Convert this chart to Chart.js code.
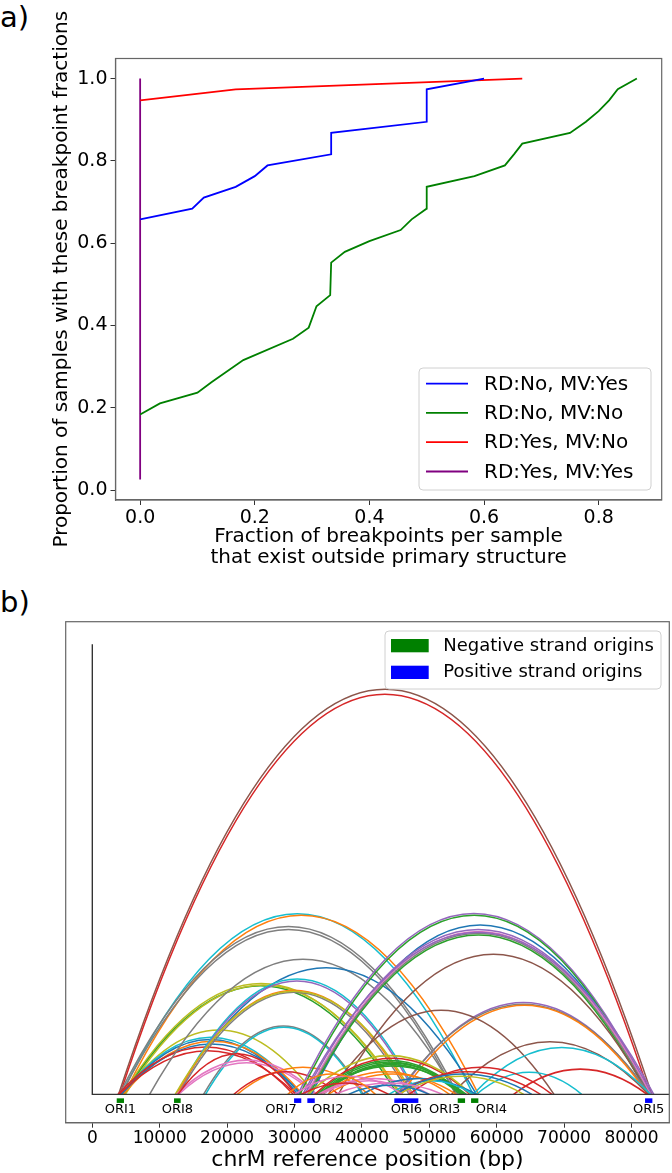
<!DOCTYPE html>
<html>
<head>
<meta charset="utf-8">
<script src="https://cdn.jsdelivr.net/npm/chart.js@4.4.0/dist/chart.umd.min.js"></script>
<style>
  html, body { margin: 0; padding: 0; background: #fff; }
  body { width: 672px; height: 1173px; position: relative; overflow: hidden; font-family: 'DejaVu Sans', sans-serif; }
  .lbl { position: absolute; left: 0; font-size: 29px; line-height: 29px; color: #000; }
  #ca { position: absolute; left: 0; top: 0; }
  #cb { position: absolute; left: 0; top: 575px; }
</style>
</head>
<body>
<div class="lbl" style="top:3px">a)</div>
<div class="lbl" style="top:588px">b)</div>
<canvas id="ca" width="672" height="580"></canvas>
<canvas id="cb" width="672" height="598"></canvas>
<script>
// ---------- panel a data ----------
const seriesLabels = ['RD:No, MV:Yes', 'RD:No, MV:No', 'RD:Yes, MV:No', 'RD:Yes, MV:Yes'];
const blueX = [0, 0.0909, 0.1111, 0.1667, 0.2, 0.2222, 0.3333, 0.3333, 0.5, 0.5, 0.6];
const blueY = [0.658, 0.684, 0.711, 0.737, 0.763, 0.789, 0.816, 0.868, 0.895, 0.974, 1.0];
const greenX = [0, 0.0345, 0.1, 0.125, 0.18, 0.2667, 0.2941, 0.3077, 0.3316, 0.3333, 0.3571, 0.4, 0.4545,
                0.4737, 0.4997, 0.5, 0.5833, 0.6364, 0.6522, 0.6667, 0.75, 0.7778, 0.8, 0.8182, 0.8333, 0.8667];
const greenY = [0.184, 0.211, 0.237, 0.263, 0.316, 0.368, 0.395, 0.447, 0.474, 0.553, 0.579, 0.605, 0.632,
                0.658, 0.684, 0.737, 0.763, 0.789, 0.816, 0.842, 0.868, 0.895, 0.921, 0.947, 0.974, 1.0];
const redX = [0, 0.1667, 0.6667];
const redY = [0.947, 0.974, 1.0];
const purpleX = [0, 0];
const purpleY = [0.026, 1.0];
const aXTicks = [0, 0.2, 0.4, 0.6, 0.8];
const aYTicks = [0, 0.2, 0.4, 0.6, 0.8, 1.0];

// ---------- panel b data ----------
const bXTicks = [0, 10000, 20000, 30000, 40000, 50000, 60000, 70000, 80000];
const oriNames = ['ORI1', 'ORI8', 'ORI7', 'ORI2', 'ORI6', 'ORI3', 'ORI4', 'ORI5'];
const oriStart = [3620, 12120, 29930, 31900, 44800, 54210, 56190, 82000];
const oriEnd   = [4700, 13110, 31000, 33000, 48370, 55300, 57270, 83090];
const oriStrand = ['-', '-', '+', '+', '+', '-', '-', '+'];
const strandLabels = ['Negative strand origins', 'Positive strand origins'];

// breakpoint pairs: start, end and arc height
const arcStart = [3900, 4100, 4300, 4700, 4000, 4300, 4500, 4700, 4900, 4500, 4300, 4400, 4600, 4300, 3800, 4000,
  8500, 12400, 12600, 12700, 12500, 12800, 12300, 16500, 16800, 12500, 12800, 12700, 21500, 21000,
  30500, 30800, 32500, 31500, 31800, 32000, 32200, 31200, 36500, 45400, 45200, 45800, 35000, 53300, 56500, 57000, 62500,
  33300, 33600, 33900, 34200, 33500, 33000, 32000, 34000, 35000, 33500, 34000, 40000, 44000, 45000, 47000, 45000, 45500,
  30000, 31000, 36000, 38000, 29000];
const arcEnd = [83000, 82700, 56500, 57300, 54200, 53900, 45600, 45300, 45800, 33000, 30800, 30500, 31200, 31000, 29800, 30200,
  54000, 57000, 48200, 48000, 47300, 47000, 47600, 40200, 40000, 33300, 33000, 30200, 41000, 36500,
  82700, 82500, 82600, 83000, 82800, 82600, 82400, 83300, 82500, 82500, 82700, 82400, 68500, 82500, 82800, 72600, 82300,
  55000, 54800, 55200, 54600, 55500, 56000, 56200, 53000, 54000, 50000, 48000, 57000, 56500, 66500, 68200, 65200, 64000,
  46000, 44000, 52000, 50000, 42000];
const arcHeight = [0.900, 0.889, 0.401, 0.398, 0.373, 0.366, 0.246, 0.241, 0.243, 0.143, 0.127, 0.122, 0.118, 0.112, 0.105, 0.097,
  0.300, 0.281, 0.256, 0.252, 0.231, 0.227, 0.229, 0.152, 0.149, 0.076, 0.070, 0.090, 0.060, 0.050,
  0.402, 0.398, 0.376, 0.366, 0.362, 0.358, 0.354, 0.360, 0.311, 0.204, 0.200, 0.198, 0.187, 0.117, 0.104, 0.049, 0.056,
  0.075, 0.072, 0.069, 0.066, 0.063, 0.080, 0.086, 0.050, 0.045, 0.035, 0.030, 0.035, 0.030, 0.050, 0.060, 0.045, 0.040,
  0.040, 0.025, 0.025, 0.020, 0.045];
const arcColor = ['brown', 'red', 'cyan', 'orange', 'gray', 'gray', 'olive', 'green', 'olive', 'olive', 'cyan', 'blue', 'orange', 'blue', 'red', 'red',
  'gray', 'blue', 'cyan', 'purple', 'orange', 'gray', 'olive', 'gray', 'cyan', 'pink', 'pink', 'red', 'orange', 'red',
  'purple', 'green', 'blue', 'purple', 'pink', 'gray', 'green', 'purple', 'brown', 'purple', 'gray', 'orange', 'brown', 'brown', 'cyan', 'cyan', 'red',
  'green', 'green', 'green', 'green', 'green', 'red', 'olive', 'orange', 'orange', 'pink', 'pink', 'blue', 'cyan', 'red', 'red', 'blue', 'olive',
  'pink', 'red', 'pink', 'blue', 'orange'];

const tab10 = { blue: '#1f77b4', orange: '#ff7f0e', green: '#2ca02c', red: '#d62728', purple: '#9467bd',
                brown: '#8c564b', pink: '#e377c2', gray: '#7f7f7f', olive: '#bcbd22', cyan: '#17becf' };

Chart.defaults.font.family = "'DejaVu Sans', sans-serif";
Chart.defaults.color = '#000';

function pts(xs, ys) { return xs.map((x, i) => ({ x: x, y: ys[i] })); }

// full box round the plot like matplotlib spines
const frame = {
  id: 'frame',
  afterDatasetsDraw(c) {
    const a = c.chartArea, ctx = c.ctx;
    ctx.save();
    ctx.strokeStyle = '#666';
    ctx.lineWidth = 1.2;
    ctx.strokeRect(a.left, a.top, a.right - a.left, a.bottom - a.top);
    ctx.restore();
  }
};

function roundBox(ctx, x, y, w, h, r) {
  ctx.beginPath();
  ctx.moveTo(x + r, y);
  ctx.arcTo(x + w, y, x + w, y + h, r);
  ctx.arcTo(x + w, y + h, x, y + h, r);
  ctx.arcTo(x, y + h, x, y, r);
  ctx.arcTo(x, y, x + w, y, r);
  ctx.closePath();
  ctx.fillStyle = 'rgba(255,255,255,0.8)';
  ctx.fill();
  ctx.strokeStyle = '#d0d0d0';
  ctx.lineWidth = 1;
  ctx.stroke();
}

const legendA = {
  id: 'legendA',
  afterDraw(c) {
    const ctx = c.ctx, a = c.chartArea;
    const w = 232, h = 122;
    const x = a.right - 10.7 - w, y = a.bottom - 10 - h;
    ctx.save();
    roundBox(ctx, x, y, w, h, 4);
    ctx.font = "20px 'DejaVu Sans'";
    ctx.textBaseline = 'middle';
    ctx.fillStyle = '#000';
    c.data.datasets.forEach((d, i) => {
      const cy = y + 15.6 + i * 29.3;
      ctx.strokeStyle = d.borderColor;
      ctx.lineWidth = 1.8;
      ctx.beginPath();
      ctx.moveTo(x + 7, cy);
      ctx.lineTo(x + 49, cy);
      ctx.stroke();
      ctx.fillText(d.label, x + 65, cy + 1);
    });
    ctx.restore();
  }
};

new Chart(document.getElementById('ca'), {
  type: 'line',
  data: {
    datasets: [
      { label: seriesLabels[0], data: pts(blueX, blueY), borderColor: '#0000ff' },
      { label: seriesLabels[1], data: pts(greenX, greenY), borderColor: '#008000' },
      { label: seriesLabels[2], data: pts(redX, redY), borderColor: '#ff0000' },
      { label: seriesLabels[3], data: pts(purpleX, purpleY), borderColor: '#800080' }
    ]
  },
  options: {
    responsive: false,
    animation: false,
    layout: { padding: { top: 58.5, right: 10.3, left: 0, bottom: 0 } },
    elements: { point: { radius: 0 }, line: { borderWidth: 1.8, tension: 0 } },
    plugins: { legend: { display: false }, tooltip: { enabled: false } },
    scales: {
      x: {
        type: 'linear', min: -0.043, max: 0.910,
        afterBuildTicks: s => { s.ticks = aXTicks.map(v => ({ value: v })); },
        afterFit: s => { s.height = 80; },
        ticks: { font: { size: 19 }, color: '#000', padding: 2, maxRotation: 0, callback: v => v.toFixed(1) },
        grid: { drawOnChartArea: false, tickLength: 5, color: '#333' },
        border: { color: '#666', width: 1.2 },
        title: {
          display: true,
          text: ['Fraction of breakpoints per sample', 'that exist outside primary structure'],
          font: { size: 20, lineHeight: 1.08 }, color: '#000', padding: { top: 0, bottom: 11 }
        }
      },
      y: {
        type: 'linear', min: -0.0238, max: 1.0488,
        afterBuildTicks: s => { s.ticks = aYTicks.map(v => ({ value: v })); },
        afterFit: s => { s.width = 115.5; },
        ticks: { font: { size: 19 }, color: '#000', padding: 3, callback: v => v.toFixed(1) },
        grid: { drawOnChartArea: false, tickLength: 5, color: '#333' },
        border: { color: '#666', width: 1.2 },
        title: {
          display: true, text: 'Proportion of samples with these breakpoint fractions',
          font: { size: 20, lineHeight: 1.2 }, color: '#000', padding: { top: 49.7, bottom: 0 }
        }
      }
    }
  },
  plugins: [frame, legendA]
});

// ---------- panel b ----------
// each arc is a parabola: quadratic curve whose control point sits at twice the peak height
const arcs = {
  id: 'arcs',
  beforeDatasetsDraw(c) {
    const ctx = c.ctx, xs = c.scales.x, ys = c.scales.y, a = c.chartArea;
    const y0 = ys.getPixelForValue(0);
    ctx.save();
    ctx.beginPath();
    ctx.rect(a.left, a.top, a.right - a.left, a.bottom - a.top);
    ctx.clip();
    ctx.lineWidth = 1.5;
    for (let i = 0; i < arcStart.length; i++) {
      const x1 = xs.getPixelForValue(arcStart[i]);
      const x2 = xs.getPixelForValue(arcEnd[i]);
      const yt = ys.getPixelForValue(arcHeight[i]);
      ctx.strokeStyle = tab10[arcColor[i]];
      ctx.beginPath();
      ctx.moveTo(x1, y0);
      ctx.quadraticCurveTo((x1 + x2) / 2, y0 - 2 * (y0 - yt), x2, y0);
      ctx.stroke();
    }
    ctx.restore();
  },
  afterDatasetsDraw(c) {
    const ctx = c.ctx, xs = c.scales.x, ys = c.scales.y;
    const y0 = ys.getPixelForValue(0);
    const align = ['center', 'center', 'right', 'left', 'center', 'right', 'left', 'center'];
    ctx.save();
    ctx.font = "13px 'DejaVu Sans'";
    ctx.textBaseline = 'middle';
    for (let i = 0; i < oriNames.length; i++) {
      const x1 = xs.getPixelForValue(oriStart[i]);
      const x2 = xs.getPixelForValue(oriEnd[i]);
      ctx.fillStyle = oriStrand[i] === '-' ? '#008000' : '#0000ff';
      ctx.fillRect(x1, y0 + 4, x2 - x1, 4.6);
      ctx.fillStyle = '#000';
      ctx.textAlign = align[i];
      let tx = (x1 + x2) / 2;
      if (align[i] === 'right') tx -= 1;
      if (align[i] === 'left') tx += 1;
      ctx.fillText(oriNames[i], tx, y0 + 15);
    }
    ctx.restore();
  }
};

const legendB = {
  id: 'legendB',
  afterDraw(c) {
    const ctx = c.ctx, a = c.chartArea;
    const w = 276, h = 58;
    const x = a.right - 8.3 - w, y = a.top + 9.3;
    ctx.save();
    roundBox(ctx, x, y, w, h, 4);
    ctx.font = "18px 'DejaVu Sans'";
    ctx.textBaseline = 'middle';
    const cols = ['#008000', '#0000ff'];
    strandLabels.forEach((t, i) => {
      ctx.fillStyle = cols[i];
      ctx.fillRect(x + 6, y + 8 + i * 26.7, 37.7, 13.3);
      ctx.fillStyle = '#000';
      ctx.fillText(t, x + 58.3, y + 15.2 + i * 26.6);
    });
    ctx.restore();
  }
};

new Chart(document.getElementById('cb'), {
  type: 'line',
  data: {
    datasets: [
      { label: 'ref', data: [{ x: 0, y: 1 }, { x: 0, y: 0 }, { x: 90000, y: 0 }], borderColor: '#333', borderWidth: 1.4 }
    ]
  },
  options: {
    responsive: false,
    animation: false,
    layout: { padding: { top: 46.7, right: 2.7, left: 65.7, bottom: 0 } },
    elements: { point: { radius: 0 }, line: { tension: 0 } },
    plugins: { legend: { display: false }, tooltip: { enabled: false } },
    scales: {
      x: {
        type: 'linear', min: -3950, max: 85600,
        afterBuildTicks: s => { s.ticks = bXTicks.map(v => ({ value: v })); },
        afterFit: s => { s.height = 50.3; },
        ticks: { font: { size: 17 }, color: '#000', padding: 1, maxRotation: 0, callback: v => String(v) },
        grid: { drawOnChartArea: false, tickLength: 5, color: '#333' },
        border: { color: '#666', width: 1.2 },
        title: { display: true, text: 'chrM reference position (bp)', font: { size: 22, lineHeight: 1.2 }, color: '#000', padding: { top: 0, bottom: 0 } }
      },
      y: { type: 'linear', min: -0.063, max: 1.05, display: false }
    }
  },
  plugins: [arcs, frame, legendB]
});
</script>
</body>
</html>
